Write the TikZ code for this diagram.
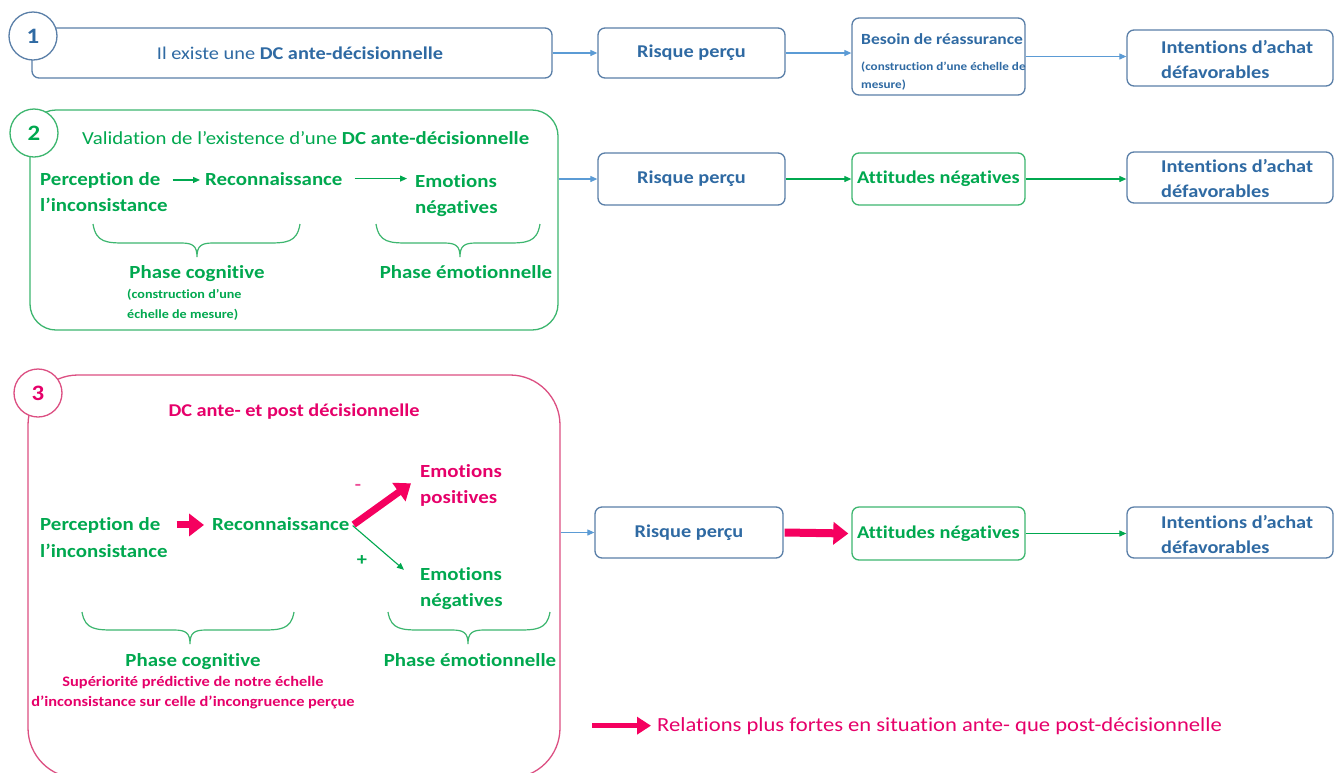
\documentclass[tikz,border=0pt]{standalone}
\usepackage{fontspec}
\setmainfont{Carlito}[FakeStretch=1.13, Ligatures=NoCommon]
\usetikzlibrary{arrows.meta,calc}
\definecolor{tblue}{HTML}{2F6AA3}
\definecolor{bblue}{HTML}{5A7FA8}
\definecolor{ablue}{HTML}{5B9BD5}
\definecolor{tgreen}{HTML}{00A84F}
\definecolor{bgreen}{HTML}{3DB66F}
\definecolor{tpink}{HTML}{E6006A}
\definecolor{apink}{HTML}{F5005F}
\definecolor{bpink}{HTML}{DC4F82}
\newcommand\mybrace[6]{%
  \draw[bgreen, line width=1.2pt]
    (#1,#4) .. controls (#1+3,#5) and (#1+14,#5) .. (#1+34,#5)
    -- (#2-16,#5) .. controls (#2-4,#5) and (#2,#5+3) .. (#2,#6)
    .. controls (#2,#5+3) and (#2+4,#5) .. (#2+16,#5)
    -- (#3-34,#5) .. controls (#3-14,#5) and (#3-3,#5) .. (#3,#4);}
\begin{document}
\begin{tikzpicture}[x=1pt,y=-1pt,
  box/.style={draw=bblue, line width=1.3pt, rounded corners=7pt, fill=white, inner sep=0pt, align=center},
  bluet/.style={text=tblue, font=\fontsize{18}{22}\selectfont\bfseries},
  greent/.style={text=tgreen, font=\fontsize{18.5}{22}\selectfont\bfseries},
  pinkt/.style={text=tpink, font=\fontsize{18.5}{22}\selectfont\bfseries},
  txt/.style={inner sep=0pt, anchor=base west},
  ctxt/.style={inner sep=0pt, anchor=base},
  num/.style={circle, draw=#1, line width=1.3pt, fill=white, minimum size=48pt, inner sep=0pt, font=\fontsize{22}{22}\selectfont\bfseries},
  barr/.style={draw=ablue, line width=1.1pt, -{Triangle[length=7pt,width=6pt]}},
  garr/.style={draw=tgreen, line width=1.1pt, -{Triangle[length=7pt,width=6pt]}},
  bigarr/.style={draw=apink, line width=7pt, -{Triangle[length=15pt,width=22pt]}},
  legarr/.style={draw=apink, line width=5pt, -{Triangle[length=14pt,width=17pt]}}
]
\useasboundingbox (0,0) rectangle (1344,772);
\clip (0,0) rectangle (1344,772);
\fill[white] (0,0) rectangle (1344,772);

% ---------- Row 1 ----------
\node[box, minimum width=520pt, minimum height=50pt, text=tblue, font=\fontsize{18}{22}\selectfont] (b1) at (292,53) {\hspace*{16pt}Il existe une \textbf{DC ante-décisionnelle}};
\node[num=bblue] (c1) at (33,36) {\textcolor{tblue}{1}};
\node[box, minimum width=187pt, minimum height=50pt, bluet] (r1) at (691.5,53) {Risque perçu};
\node[box, minimum width=173pt, minimum height=77pt] (bs) at (938.5,56.5) {};
\node[txt, text=tblue, font=\fontsize{15.5}{19}\selectfont\bfseries] (bs1) at (861,44) {Besoin de réassurance};
\node[txt, text=tblue, font=\fontsize{11.6}{15}\selectfont\bfseries] (bs2) at (861,70) {(construction d’une échelle de};
\node[txt, text=tblue, font=\fontsize{11.6}{15}\selectfont\bfseries] (bs3) at (861,88) {mesure)};
\node[box, minimum width=206pt, minimum height=56pt] (i1) at (1230,58) {};
\node[txt, bluet] (i1a) at (1161,53) {Intentions d’achat};
\node[txt, bluet] (i1b) at (1161,78) {défavorables};
\draw[barr] (b1.east) -- (r1.west);
\draw[barr] (r1.east) -- (r1.east -| bs.west);
\draw[barr] (bs.east) -- (bs.east -| i1.west);

% ---------- Row 2 ----------
\node[box, draw=bgreen, rounded corners=26pt, minimum width=528pt, minimum height=220pt] (b2) at (294,220) {};
\node[num=bgreen] (c2) at (34,133) {\textcolor{tgreen}{2}};
\node[txt, text=tgreen, font=\fontsize{18.4}{22}\selectfont] (t2) at (82,144) {Validation de l’existence d’une \textbf{DC ante-décisionnelle}};
\node[txt, greent] (p2a) at (40,185) {Perception de};
\node[txt, greent] (p2b) at (40,211) {l’inconsistance};
\node[txt, greent] (rc2) at (205,185) {Reconnaissance};
\node[txt, greent] (em2a) at (415,187) {Emotions};
\node[txt, greent] (em2b) at (415,213) {négatives};
\draw[garr] ([xshift=12pt]p2a.east) -- ([xshift=-5pt]p2a.east -| rc2.west);
\draw[garr] ([xshift=12pt]rc2.east) -- ([xshift=-8pt]rc2.east -| em2a.west);
\mybrace{93}{197}{300}{224}{243}{257}
\mybrace{376}{460}{540}{224}{243}{257}
\node[ctxt, greent] (pc2) at (197,278) {Phase cognitive};
\node[txt, text=tgreen, font=\fontsize{12.5}{15}\selectfont\bfseries] (pc2a) at (127,298) {(construction d’une};
\node[txt, text=tgreen, font=\fontsize{12.5}{15}\selectfont\bfseries] (pc2b) at (127,318) {échelle de mesure)};
\node[ctxt, greent] (pe2) at (466,278) {Phase émotionnelle};

\node[box, minimum width=187pt, minimum height=52pt, bluet] (r2) at (691.5,179) {Risque perçu};
\node[box, draw=bgreen, minimum width=173pt, minimum height=52pt, text=tgreen, font=\fontsize{18}{22}\selectfont\bfseries] (at2) at (938.5,179) {Attitudes négatives};
\node[box, minimum width=206pt, minimum height=51pt] (i2) at (1230,177.5) {};
\node[txt, bluet] (i2a) at (1161,172) {Intentions d’achat};
\node[txt, bluet] (i2b) at (1161,197) {défavorables};
\draw[barr] (r2.west -| b2.east) -- (r2.west);
\draw[garr] (r2.east) -- (at2.west);
\draw[garr] (at2.east) -- (at2.east -| i2.west);

% ---------- Row 3 ----------
\node[box, draw=bpink, rounded corners=50pt, minimum width=532pt, minimum height=403pt] (b3) at (294,576.5) {};
\node[num=bpink] (c3) at (38,393) {\textcolor{tpink}{3}};
\node[ctxt, text=tpink, font=\fontsize{18}{20}\selectfont\bfseries] (t3) at (294,416) {DC ante- et post décisionnelle};
\node[txt, greent] (p3a) at (40,530) {Perception de};
\node[txt, greent] (p3b) at (40,557) {l’inconsistance};
\node[txt, greent] (rc3) at (212,530) {Reconnaissance};
\node[txt, pinkt] (em3pa) at (420,477) {Emotions};
\node[txt, pinkt] (em3pb) at (420,503) {positives};
\node[txt, greent] (em3na) at (420,580) {Emotions};
\node[txt, greent] (em3nb) at (420,606) {négatives};
\draw[bigarr] ([xshift=16pt]p3a.east) -- ([xshift=-8pt]p3a.east -| rc3.west);
\draw[bigarr] ([xshift=4pt,yshift=-1pt]rc3.east) -- ([shift={(-9,6)}]em3pa.south west);
\draw[garr] ([xshift=3pt,yshift=-2pt]rc3.east) -- ([shift={(-16,3)}]em3na.north west);
\node[inner sep=0pt, text=tpink!70, font=\fontsize{18}{20}\selectfont\bfseries] (minus) at (358,487) {-};
\node[inner sep=0pt, text=tgreen, font=\fontsize{18}{20}\selectfont\bfseries] (plus) at (362,561) {+};
\mybrace{82}{190}{294}{612}{630}{644}
\mybrace{388}{468}{550}{612}{630}{644}
\node[ctxt, greent] (pc3) at (193,666) {Phase cognitive};
\node[ctxt, text=tpink, font=\fontsize{14.5}{17}\selectfont\bfseries] (sp3a) at (193,686) {Supériorité prédictive de notre échelle};
\node[ctxt, text=tpink, font=\fontsize{14.5}{17}\selectfont\bfseries] (sp3b) at (193,706) {d’inconsistance sur celle d’incongruence perçue};
\node[ctxt, greent] (pe3) at (470,666) {Phase émotionnelle};

\node[box, minimum width=188pt, minimum height=51pt, bluet] (r3) at (689,532.5) {Risque perçu};
\node[box, draw=bgreen, minimum width=173pt, minimum height=53pt, text=tgreen, font=\fontsize{18}{22}\selectfont\bfseries] (at3) at (938.5,533.5) {Attitudes négatives};
\node[box, minimum width=206pt, minimum height=51pt] (i3) at (1230,532.5) {};
\node[txt, bluet] (i3a) at (1161,528) {Intentions d’achat};
\node[txt, bluet] (i3b) at (1161,553) {défavorables};
\draw[barr] (r3.west -| b3.east) -- (r3.west);
\draw[bigarr, line width=8pt] ([xshift=1pt]r3.east) -- ([xshift=-3pt]at3.west);
\draw[garr] (at3.east) -- (at3.east -| i3.west);

% ---------- Legend ----------
\node[txt, text=tpink, font=\fontsize{20}{24}\selectfont] (lg) at (657,731) {Relations plus fortes en situation ante- que post-décisionnelle};
\path (lg.west) ++(-65,0) coordinate (lgA);
\draw[legarr] (lgA) -- ([xshift=-6pt]lg.west);
\end{tikzpicture}
\end{document}
